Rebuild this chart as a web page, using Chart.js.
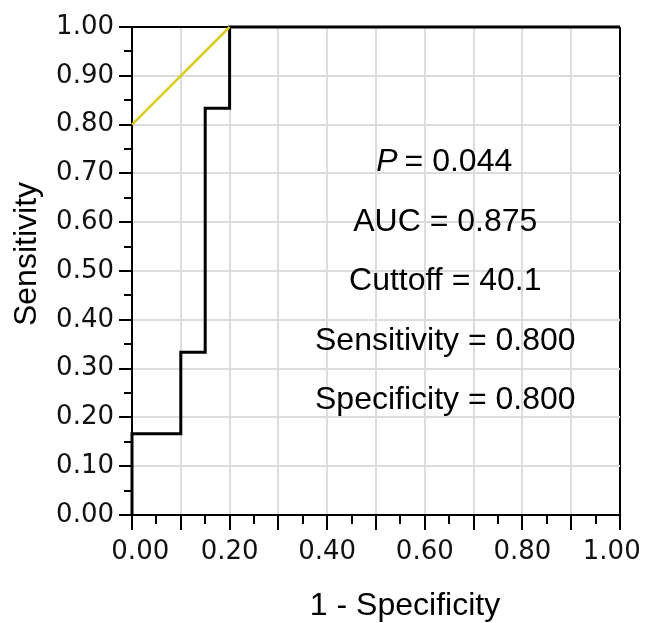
<!DOCTYPE html>
<html>
<head>
<meta charset="utf-8">
<script src="https://cdn.jsdelivr.net/npm/chart.js@4/dist/chart.umd.min.js"></script>
<style>
    body { margin: 0; background: #fff; }
    #wrap { width: 645px; height: 623px; }
</style>
</head>
<body>
<div id="wrap"><canvas id="myChart" width="645" height="623"></canvas></div>
<script>
// ROC curve (1 - specificity, sensitivity)
const rocX = [0, 0, 0.1, 0.1, 0.15, 0.15, 0.2, 0.2, 1];
const rocY = [0, 0.1667, 0.1667, 0.3333, 0.3333, 0.8333, 0.8333, 1, 1];

// Yellow reference segment
const refX = [0, 0.2];
const refY = [0.8, 1.0];

// Tick labels
const xTickLabels = ['0.00', '0.20', '0.40', '0.60', '0.80', '1.00'];
const yTickLabels = ['0.00', '0.10', '0.20', '0.30', '0.40', '0.50', '0.60', '0.70', '0.80', '0.90', '1.00'];

// Stats box text
const statNames = ['P', 'AUC', 'Cuttoff', 'Sensitivity', 'Specificity'];
const statValues = ['0.044', '0.875', '40.1', '0.800', '0.800'];

const xTitle = '1 - Specificity';
const yTitle = 'Sensitivity';

const textFont = '"Liberation Sans", Arial, sans-serif';

// ticks every 0.05; majors every 0.1
function isMajor(v) {
    return Math.round(v * 100) % 10 === 0;
}

function gridColor(ctx) {
    const v = ctx.tick ? ctx.tick.value : 0;
    if (Math.abs(v - 1) < 1e-6) return '#000000';
    if (Math.abs(v) < 1e-6) return 'rgba(0,0,0,0)';
    return isMajor(v) ? '#dcdcdc' : 'rgba(0,0,0,0)';
}

function tickColor(ctx) {
    const v = ctx.tick ? ctx.tick.value : 0;
    return isMajor(v) ? '#000000' : 'rgba(0,0,0,0)';
}

function toPairs(xs, ys) {
    return xs.map((x, i) => ({ x: x, y: ys[i] }));
}

// Minor ticks, axis titles and stats text
const overlay = {
    id: 'overlay',
    afterDraw(chart) {
        const { ctx, chartArea } = chart;
        const xs = chart.scales.x;
        const ys = chart.scales.y;
        ctx.save();

        ctx.strokeStyle = '#000000';
        ctx.lineWidth = 2;
        ctx.beginPath();
        xs.ticks.forEach(t => {
            if (isMajor(t.value)) return;
            const px = Math.round(xs.getPixelForValue(t.value));
            ctx.moveTo(px, chartArea.bottom);
            ctx.lineTo(px, chartArea.bottom + 9);
        });
        ys.ticks.forEach(t => {
            if (isMajor(t.value)) return;
            const py = Math.round(ys.getPixelForValue(t.value));
            ctx.moveTo(chartArea.left, py);
            ctx.lineTo(chartArea.left - 8, py);
        });
        ctx.stroke();

        ctx.fillStyle = '#000000';
        ctx.textBaseline = 'middle';
        ctx.textAlign = 'center';
        ctx.font = '32px ' + textFont;
        ctx.fillText(xTitle, 405, 606);

        ctx.save();
        ctx.translate(27, 254);
        ctx.rotate(-Math.PI / 2);
        ctx.fillText(yTitle, 0, 0);
        ctx.restore();

        // stats lines, anchored in data coordinates
        const cx = xs.getPixelForValue(0.642);
        statNames.forEach((name, i) => {
            const cy = ys.getPixelForValue(0.723 - i * 0.122);
            if (name === 'P') {
                const italic = 'italic 32px ' + textFont;
                const normal = '32px ' + textFont;
                const rest = ' = ' + statValues[i];
                ctx.font = italic;
                const w1 = ctx.measureText(name).width;
                ctx.font = normal;
                const w2 = ctx.measureText(rest).width;
                const left = cx - (w1 + w2) / 2;
                ctx.textAlign = 'left';
                ctx.font = italic;
                ctx.fillText(name, left, cy);
                ctx.font = normal;
                ctx.fillText(rest, left + w1 - 2, cy);
                ctx.textAlign = 'center';
            } else {
                ctx.font = '32px ' + textFont;
                ctx.fillText(name + ' = ' + statValues[i], cx, cy);
            }
        });

        ctx.restore();
    }
};

const ctx = document.getElementById('myChart').getContext('2d');
const myChart = new Chart(ctx, {
    type: 'scatter',
    data: {
        datasets: [
            {
                label: 'Reference',
                data: toPairs(refX, refY),
                showLine: true,
                borderColor: '#d6cd26',
                borderWidth: 2.5,
                pointRadius: 0,
                clip: false
            },
            {
                label: 'ROC',
                data: toPairs(rocX, rocY),
                showLine: true,
                borderColor: '#000000',
                borderWidth: 3,
                pointRadius: 0,
                clip: false
            }
        ]
    },
    options: {
        responsive: false,
        animation: false,
        layout: {
            padding: { left: 0, right: 25, top: 27, bottom: 0 }
        },
        plugins: {
            legend: { display: false },
            tooltip: { enabled: false }
        },
        scales: {
            x: {
                type: 'linear',
                min: 0,
                max: 1,
                border: { display: true, color: '#000000', width: 2 },
                grid: {
                    color: gridColor,
                    lineWidth: 2,
                    drawTicks: true,
                    tickLength: 15,
                    tickColor: tickColor,
                    tickWidth: 2
                },
                ticks: {
                    stepSize: 0.05,
                    maxTicksLimit: 50,
                    autoSkip: false,
                    maxRotation: 0,
                    padding: 7,
                    color: '#111111',
                    font: { family: '"DejaVu Sans", Verdana, sans-serif', size: 26 },
                    callback: v => {
                        const s = Number(v).toFixed(2);
                        if (!xTickLabels.includes(s)) return '';
                        // end labels sit slightly inside the axis ends
                        if (s === xTickLabels[0]) return '  ' + s;
                        if (s === xTickLabels[xTickLabels.length - 1]) return s + '  ';
                        return s;
                    }
                },
                afterFit: scale => {
                    scale.height = 108;
                    scale.paddingLeft = 0;
                    scale.paddingRight = 0;
                }
            },
            y: {
                type: 'linear',
                min: 0,
                max: 1,
                border: { display: true, color: '#000000', width: 2 },
                grid: {
                    color: gridColor,
                    lineWidth: 2,
                    drawTicks: true,
                    tickLength: 13,
                    tickColor: tickColor,
                    tickWidth: 2
                },
                ticks: {
                    stepSize: 0.05,
                    maxTicksLimit: 50,
                    autoSkip: false,
                    padding: 5,
                    color: '#111111',
                    font: { family: '"DejaVu Sans", Verdana, sans-serif', size: 26 },
                    callback: v => {
                        const s = Number(v).toFixed(2);
                        return yTickLabels.includes(s) ? s : '';
                    }
                },
                afterFit: scale => {
                    scale.width = 132;
                    scale.paddingTop = 0;
                    scale.paddingBottom = 0;
                }
            }
        }
    },
    plugins: [overlay]
});
</script>
</body>
</html>
